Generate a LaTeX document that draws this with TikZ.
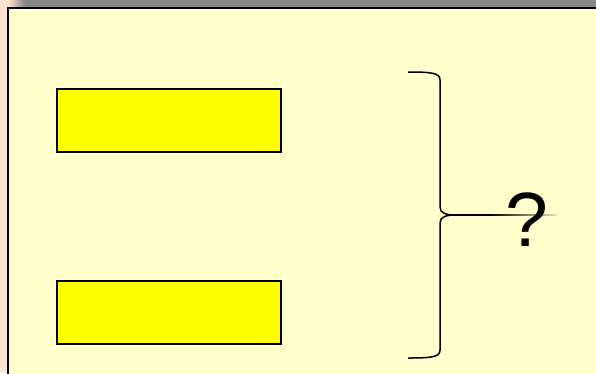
\documentclass[tikz,border=0pt]{standalone}
\usepackage{fontspec}
\setmainfont{Liberation Sans}
\definecolor{panel}{HTML}{FFFFCC}
\definecolor{peach}{HTML}{FFE4D2}
\definecolor{topgray}{HTML}{858585}
\definecolor{boxyellow}{HTML}{FFFF00}
\tikzset{
  ybox/.style={draw=black, line width=1.8pt, fill=boxyellow, minimum width=224pt, minimum height=63pt, inner sep=0pt, anchor=north west},
  bracestyle/.style={draw=black, line width=1.5pt},
}
\begin{document}
\begin{tikzpicture}[x=1pt,y=-1pt]
\useasboundingbox (0,0) rectangle (596,373);
% outer background
\fill[peach] (0,0) rectangle (596,373);
\fill[topgray] (25,0) rectangle (596,7.5);
\shade[left color=peach, right color=topgray] (8,0) rectangle (25,7.5);
% panel
\filldraw[fill=panel, draw=black, line width=2pt] (8,8) rectangle (600,380);
% boxes
\node[ybox] (top) at (56,88) {};
\node[ybox] (bottom) at (56,280) {};
% brace
\coordinate (tip) at (455,215);
\draw[bracestyle] (408,72) .. controls (432,72) and (440,73) .. (440,80) -- (440,207) .. controls (440,213) and (446,215) .. (tip);
\draw[bracestyle] (tip) .. controls (446,215) and (440,217) .. (440,223) -- (440,350) .. controls (440,357) and (432,358) .. (408,358);
\fill[black] (455,214.3) rectangle (490,215.7);
\shade[left color=black, right color=panel!80!gray] (490,214.3) rectangle (557,215.7);
% question mark
\node[font=\fontsize{77}{77}\selectfont, inner sep=0pt] (q) at (527,220) {?};
\end{tikzpicture}
\end{document}
